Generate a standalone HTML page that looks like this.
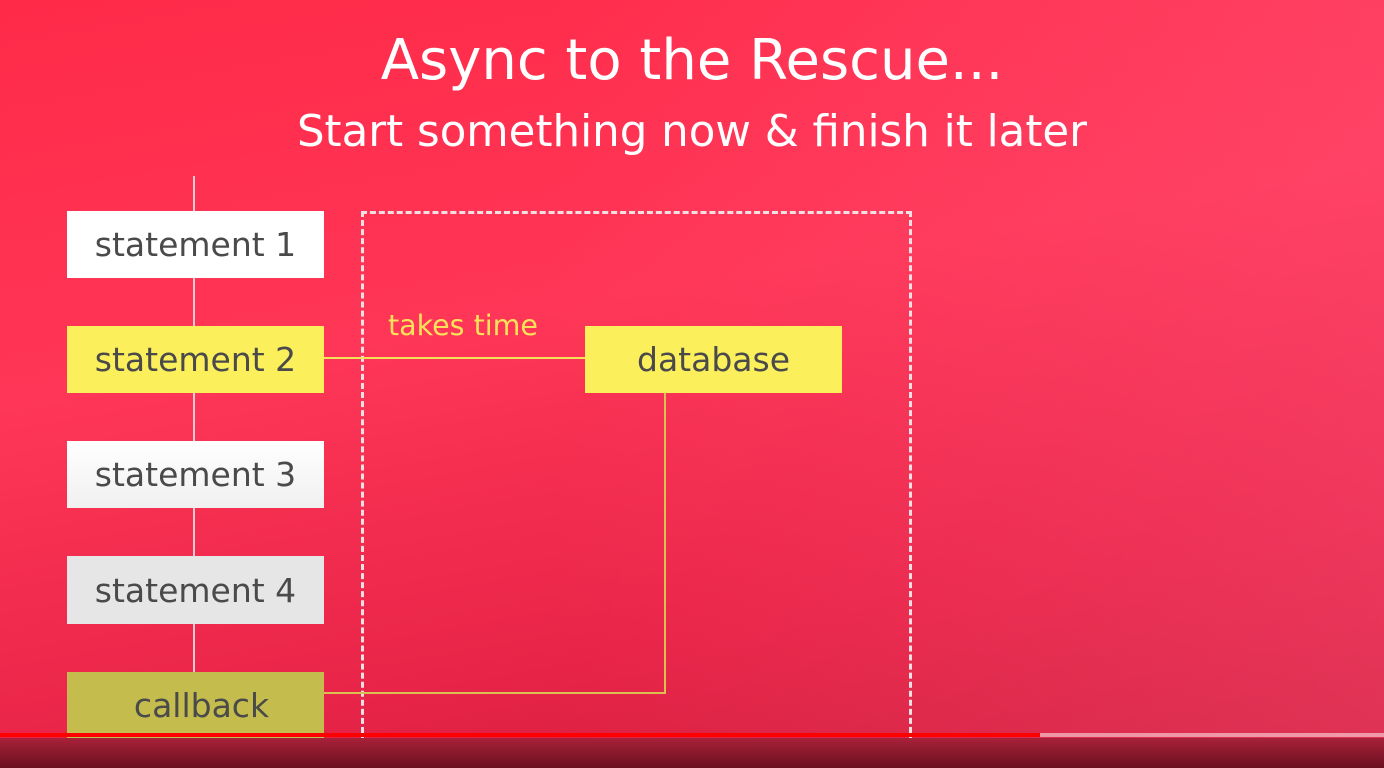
<!DOCTYPE html>
<html><head><style>
body{margin:0;width:1384px;height:768px;overflow:hidden;position:relative;font-family:"DejaVu Sans","Liberation Sans",sans-serif;
background:linear-gradient(170deg,#ff2a48 0%,#ff3657 40%,#e82448 75%,#c91d3a 100%);}
.ov{position:absolute;inset:0;background:linear-gradient(90deg,rgba(255,80,120,0) 40%,rgba(255,90,130,0.35) 100%);}
.t{position:absolute;left:0;width:1384px;text-align:center;color:#fff;}
.box{position:absolute;left:67px;width:257px;display:flex;align-items:center;justify-content:center;font-size:33px;color:#4a4a4a;}
.ln{position:absolute;background:#f3e15a;}
</style></head><body>
<div class="ov"></div>
<div class="t" style="top:28px;font-size:56px;">Async to the Rescue...</div>
<div class="t" style="top:107px;font-size:43.5px;">Start something now &amp; finish it later</div>
<div style="position:absolute;left:193px;top:176px;width:2px;height:496px;background:#f0c8cf"></div>
<div style="position:absolute;left:361px;top:211px;width:545px;height:525px;border:3px dashed #f2dfe3;"></div>
<div class="ln" style="left:324px;top:357px;width:261px;height:2px"></div>
<div class="ln" style="left:664px;top:393px;width:2px;height:301px;background:#d9c050"></div>
<div class="ln" style="left:324px;top:692px;width:342px;height:2px;background:#d9c050"></div>
<div style="position:absolute;left:388px;top:309px;font-size:28.5px;color:#f8e25a">takes time</div>
<div class="box" style="top:211px;height:67px;background:#fff">statement 1</div>
<div class="box" style="top:326px;height:67px;background:#fbef5c">statement 2</div>
<div class="box" style="top:441px;height:67px;background:linear-gradient(#fff,#f0f0f0)">statement 3</div>
<div class="box" style="top:556px;height:68px;background:#e6e6e6">statement 4</div>
<div class="box" style="top:672px;height:66px;background:#c4bd4e;padding-left:12px;box-sizing:border-box">callback</div>
<div class="box" style="left:585px;top:326px;height:67px;background:#fbef5c">database</div>
<div style="position:absolute;left:0;top:738px;width:1384px;height:30px;background:linear-gradient(#a8213a,#6a1020)"></div>
<div style="position:absolute;left:0;top:733px;width:1040px;height:4px;background:#f00"></div>
<div style="position:absolute;left:1040px;top:733px;width:344px;height:4px;background:rgba(255,255,255,0.5)"></div>
</body></html>
